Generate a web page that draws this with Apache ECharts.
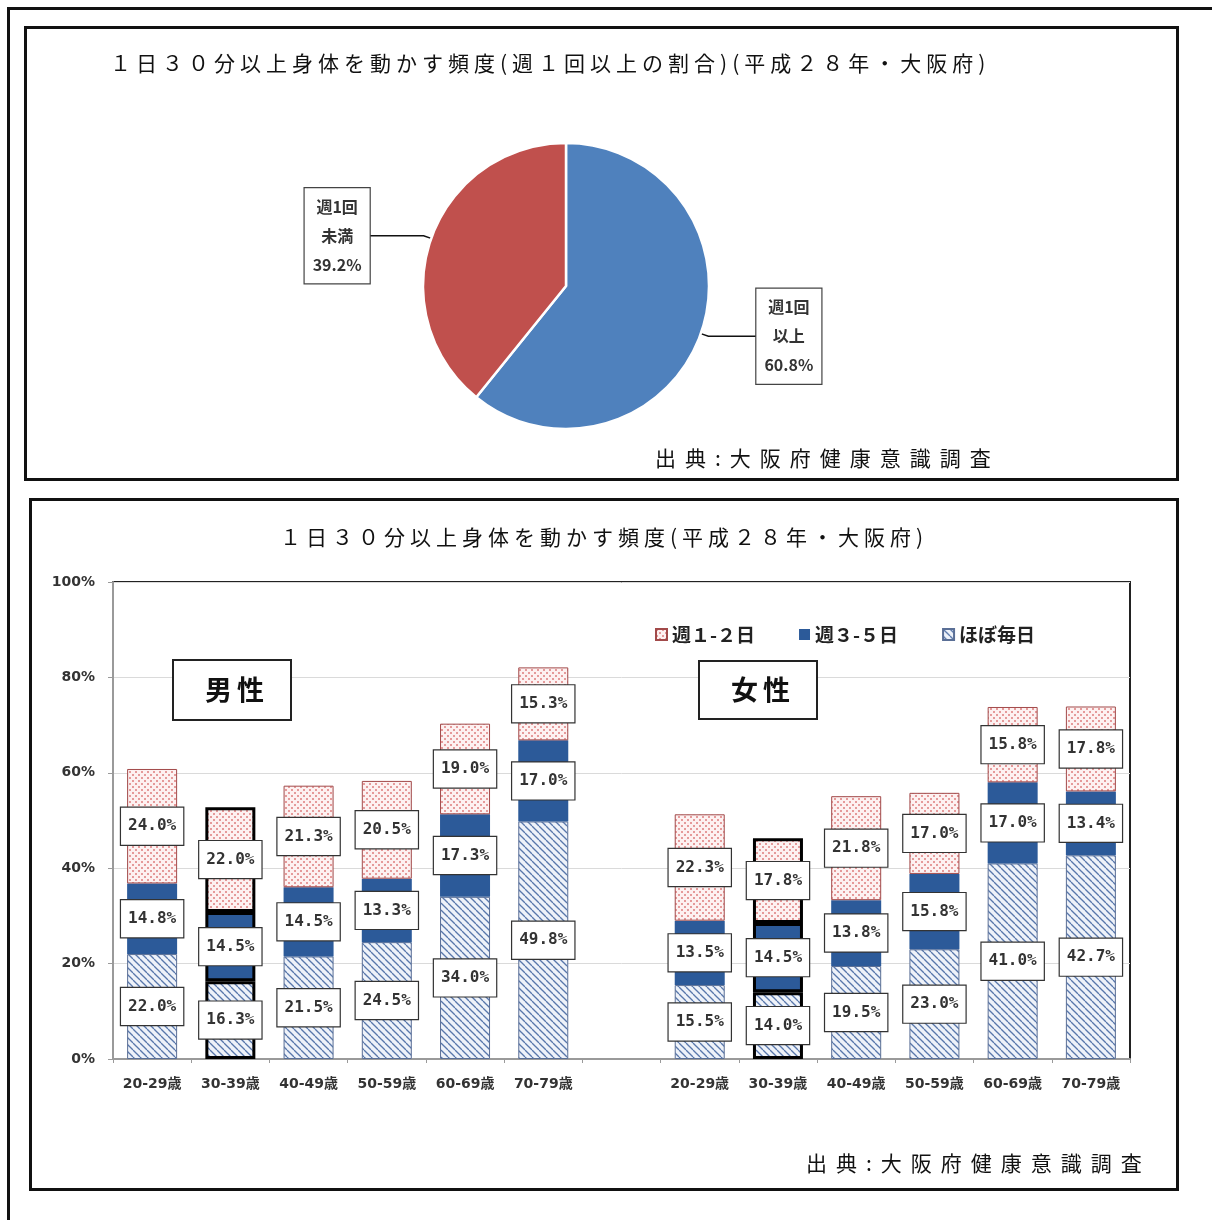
<!DOCTYPE html>
<html>
<head>
<meta charset="utf-8">
<script src="https://cdn.jsdelivr.net/npm/echarts@6/dist/echarts.min.js"></script>
<style>
html,body{margin:0;padding:0;background:#fff;}
#chart{width:1212px;height:1220px;}
</style>
</head>
<body>
<div id="chart"></div>
<script>
// ---- data ----
const pieNames = ['週1回以上', '週1回未満'];
const pieValues = [60.8, 39.2];

const ageGroups = ['20-29歳', '30-39歳', '40-49歳', '50-59歳', '60-69歳', '70-79歳'];
const seriesNames = ['ほぼ毎日', '週３-５日', '週１-２日'];
const legendOrder = ['週１-２日', '週３-５日', 'ほぼ毎日'];

const maleDaily  = [22.0, 16.3, 21.5, 24.5, 34.0, 49.8];
const male35     = [14.8, 14.5, 14.5, 13.3, 17.3, 17.0];
const male12     = [24.0, 22.0, 21.3, 20.5, 19.0, 15.3];
const femaleDaily= [15.5, 14.0, 19.5, 23.0, 41.0, 42.7];
const female35   = [13.5, 14.5, 13.8, 15.8, 17.0, 13.4];
const female12   = [22.3, 17.8, 21.8, 17.0, 15.8, 17.8];
const highlightGroup = '30-39歳';

const titleTop = '１日３０分以上身体を動かす頻度(週１回以上の割合)(平成２８年・大阪府)';
const titleBottom = '１日３０分以上身体を動かす頻度(平成２８年・大阪府)';
const sourceText = '出典:大阪府健康意識調査';

// ---- letter spacing for texts whose font family list carries a "SpacedN" marker ----
(function () {
  const proto = CanvasRenderingContext2D.prototype;
  const orig = proto.fillText;
  proto.fillText = function (t, x, y, mw) {
    const m = /Spaced(\d+)/.exec(this.font || '');
    if (m && ('letterSpacing' in this)) {
      const prev = this.letterSpacing;
      this.letterSpacing = m[1] + 'px';
      if (mw === undefined) orig.call(this, t, x, y); else orig.call(this, t, x, y, mw);
      this.letterSpacing = prev;
      return;
    }
    return orig.apply(this, arguments);
  };
})();

// ---- patterns ----
function hatchPattern() {
  const s = 7, c = document.createElement('canvas');
  c.width = s; c.height = s;
  const g = c.getContext('2d');
  g.fillStyle = '#eef2f9'; g.fillRect(0, 0, s, s);
  g.strokeStyle = '#5877ab'; g.lineWidth = 1.3;
  [-s, 0, s].forEach(k => { g.beginPath(); g.moveTo(k, 0); g.lineTo(k + s, s); g.stroke(); });
  return { image: c, repeat: 'repeat' };
}
function dotPattern() {
  const s = 6, c = document.createElement('canvas');
  c.width = s; c.height = s;
  const g = c.getContext('2d');
  g.fillStyle = '#fdf1f1'; g.fillRect(0, 0, s, s);
  g.fillStyle = '#e59a9a';
  g.fillRect(0, 0, 2, 2); g.fillRect(3, 3, 2, 2);
  return { image: c, repeat: 'repeat' };
}

const xData = ageGroups.concat([''], ageGroups);
function combine(m, f) {
  const arr = m.concat(['-'], f);
  return arr.map((v, i) => {
    if (xData[i] === highlightGroup) {
      return { value: v, itemStyle: { borderColor: '#000', borderWidth: 3 } };
    }
    return v;
  });
}

const labelStyle = {
  show: true,
  position: 'inside',
  formatter: p => (typeof p.value === 'number' ? p.value.toFixed(1) + '%' : ''),
  backgroundColor: '#fff',
  borderColor: '#333',
  borderWidth: 1.2,
  padding: [9, 7],
  fontFamily: 'DejaVu Sans Mono',
  fontWeight: 'bold',
  fontSize: 16,
  lineHeight: 19,
  color: '#333'
};

const styles = [
  { color: hatchPattern(), borderColor: '#5a6f96', borderWidth: 1 },
  { color: '#2c5a99', borderColor: '#2c5a99', borderWidth: 0 },
  { color: dotPattern(), borderColor: '#a24a4a', borderWidth: 1 }
];
const dataSets = [combine(maleDaily, femaleDaily), combine(male35, female35), combine(male12, female12)];

const barSeries = seriesNames.map((n, i) => ({
  name: n,
  type: 'bar',
  stack: 'total',
  barWidth: 50,
  itemStyle: styles[i],
  label: labelStyle,
  data: dataSets[i]
}));

const spacedFont = (n) => '"Noto Sans CJK JP", Spaced' + n;
const pieColors = ['#4f81bd', '#c0504d'];
const pieLine2 = [48, 54];

const chart = echarts.init(document.getElementById('chart'), null, { renderer: 'canvas' });
chart.setOption({
  animation: false,
  backgroundColor: '#fff',
  title: [
    { text: titleTop, left: 110, top: 53, padding: 0,
      textStyle: { fontFamily: spacedFont(5), fontSize: 21, fontWeight: 'normal', color: '#111' } },
    { text: sourceText, left: 655, top: 448, padding: 0,
      textStyle: { fontFamily: spacedFont(9), fontSize: 21, fontWeight: 'normal', color: '#111' } },
    { text: titleBottom, left: 280, top: 527, padding: 0,
      textStyle: { fontFamily: spacedFont(5), fontSize: 21, fontWeight: 'normal', color: '#111' } },
    { text: sourceText, left: 806, top: 1153, padding: 0,
      textStyle: { fontFamily: spacedFont(9), fontSize: 21, fontWeight: 'normal', color: '#111' } },
    { text: '男性', left: 173, top: 660, padding: [16, 32], borderColor: '#222', borderWidth: 2, backgroundColor: '#fff',
      textStyle: { fontFamily: 'Noto Sans CJK JP', fontSize: 27, fontWeight: 'bold', color: '#111', lineHeight: 28 } },
    { text: '女性', left: 699, top: 661, padding: [15, 32], borderColor: '#222', borderWidth: 2, backgroundColor: '#fff',
      textStyle: { fontFamily: 'Noto Sans CJK JP', fontSize: 27, fontWeight: 'bold', color: '#111', lineHeight: 28 } }
  ],
  graphic: [
    { type: 'rect', z: 100, shape: { x: 8.5, y: 8.5, width: 1300, height: 1300 }, style: { fill: 'none', stroke: '#111', lineWidth: 3 } },
    { type: 'rect', z: 100, shape: { x: 25.5, y: 27.5, width: 1152, height: 452 }, style: { fill: 'none', stroke: '#111', lineWidth: 3 } },
    { type: 'rect', z: 100, shape: { x: 30.5, y: 499.5, width: 1147, height: 690 }, style: { fill: 'none', stroke: '#111', lineWidth: 3 } }
  ],
  legend: {
    data: legendOrder,
    left: 655, top: 625, padding: 0,
    itemWidth: 11, itemHeight: 11, itemGap: 44,
    icon: 'rect',
    textStyle: { fontFamily: 'Noto Sans CJK JP', fontSize: 19, fontWeight: 'bold', color: '#222' }
  },
  grid: {
    left: 113, right: 82, top: 582, bottom: 161,
    show: true, borderColor: '#222', borderWidth: 2
  },
  xAxis: {
    type: 'category',
    data: xData,
    axisLine: { lineStyle: { color: '#9a9a9a', width: 2 } },
    axisTick: { show: true, interval: 0, length: 4, lineStyle: { color: '#9a9a9a' } },
    axisLabel: { interval: 0, margin: 18, fontFamily: 'DejaVu Sans, Noto Sans CJK JP', fontWeight: 'bold', fontSize: 14, color: '#333' }
  },
  yAxis: {
    type: 'value',
    min: 0, max: 100, interval: 20,
    axisLine: { show: true, lineStyle: { color: '#9a9a9a', width: 2 } },
    axisTick: { show: true, length: 5, lineStyle: { color: '#9a9a9a' } },
    splitLine: { lineStyle: { color: '#dadada', width: 1 } },
    axisLabel: { formatter: '{value}%', margin: 18, fontFamily: 'DejaVu Sans', fontWeight: 'bold', fontSize: 14, color: '#333' }
  },
  series: [
    {
      type: 'pie',
      center: [566, 286],
      radius: 143,
      startAngle: 90,
      clockwise: true,
      avoidLabelOverlap: false,
      itemStyle: { borderColor: '#fff', borderWidth: 2.5 },
      label: {
        show: true,
        position: 'outside',
        distanceToLabelLine: 0,
        formatter: p => '{a|' + p.name.slice(0, 3) + '}\n{a|' + p.name.slice(3) + '}\n{a|' + p.value.toFixed(1) + '%}',
        backgroundColor: '#fff',
        borderColor: '#444',
        borderWidth: 1.2,
        padding: [4, 8],
        rich: { a: { fontFamily: 'Noto Sans CJK JP', fontWeight: 'bold', fontSize: 16, lineHeight: 29, color: '#333', align: 'center' } }
      },
      labelLine: { show: true, length: 8, length2: 54, smooth: false, lineStyle: { color: '#111', width: 1.5 } },
      data: pieNames.map((n, i) => ({
        name: n, value: pieValues[i],
        itemStyle: { color: pieColors[i] },
        labelLine: { length2: pieLine2[i] }
      }))
    }
  ].concat(barSeries)
});
</script>
</body>
</html>
